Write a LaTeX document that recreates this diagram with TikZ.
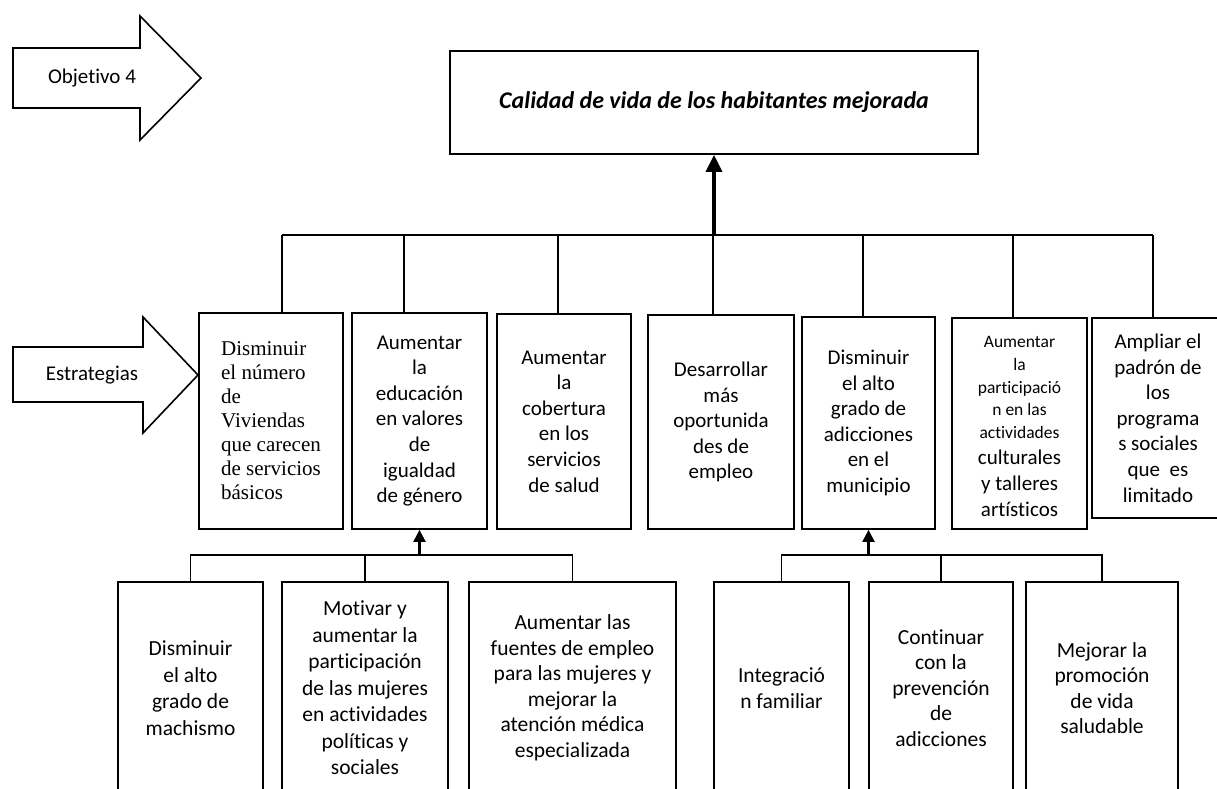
\documentclass[tikz,border=0pt]{standalone}
\usepackage{fontspec}
\setmainfont{Carlito}[Ligatures={NoCommon}]
\newfontfamily\tnrfont{Liberation Serif}
\usetikzlibrary{arrows.meta}
\begin{document}
\begin{tikzpicture}[x=1pt,y=1pt,
  box/.style={draw,line width=1.7pt,inner sep=0pt,align=center,font=\fontsize{21}{25.6}\selectfont},
  conn/.style={line width=1.9pt},
  uparrow/.style={line width=2.2pt,-{Triangle[width=12pt,length=12pt]}},
  mainarrow/.style={line width=3.2pt,-{Triangle[width=16pt,length=17pt]}},
  bigarrow/.style={draw,line width=1.6pt,line join=miter},
  lbl/.style={font=\fontsize{21}{25}\selectfont,inner sep=0pt}]
\useasboundingbox (0,0) rectangle (1217,-789);
\clip (0,0) rectangle (1217,-789);

% side arrows
\draw[bigarrow] (13,-48) -- (140,-48) -- (140,-16) -- (201,-78) -- (140,-140) -- (140,-108) -- (13,-108) -- cycle;
\node[lbl] (obj) at (92,-78) {Objetivo 4};
\draw[bigarrow] (13,-347) -- (143,-347) -- (143,-317) -- (198,-375) -- (143,-433) -- (143,-402) -- (13,-402) -- cycle;
\node[lbl] (est) at (92,-375) {Estrategias};

% main box
\node[box,minimum width=528pt,minimum height=103pt,font=\fontsize{24}{28}\selectfont\bfseries\itshape] (main) at (714,-102.5) {Calidad de vida de los habitantes mejorada};

% strategy boxes
\node[box,align=left,minimum width=144pt,minimum height=216pt,font=\fontsize{21}{24}\selectfont\tnrfont] (s1) at (271,-421) {Disminuir\\el número\\de\\Viviendas\\que carecen\\de servicios\\básicos};
\node[box,minimum width=135pt,minimum height=216pt] (s2) at (419.5,-421) {Aumentar\\la\\educación\\en valores\\de\\igualdad\\de género};
\node[box,minimum width=134pt,minimum height=215pt] (s3) at (564,-421.5) {Aumentar\\la\\cobertura\\en los\\servicios\\de salud};
\node[box,minimum width=146pt,minimum height=214pt] (s4) at (721,-422) {Desarrollar\\más\\oportunida\\des de\\empleo};
\node[box,minimum width=133pt,minimum height=212pt] (s5) at (868.5,-423) {Disminuir\\el alto\\grado de\\adicciones\\en el\\municipio};
\node[box,minimum width=135pt,minimum height=211pt] (s6) at (1019.5,-423.5) {};
\node[font=\fontsize{17.5}{22.8}\selectfont,align=center,inner sep=0pt] (s6a) at (1019.5,-387.5) {Aumentar\\la\\participació\\n en las\\actividades};
\node[font=\fontsize{21}{26}\selectfont,align=center,inner sep=0pt] (s6b) at (1019.5,-483) {culturales\\y talleres\\artísticos};
\node[box,minimum width=132pt,minimum height=200pt] (s7) at (1158,-418) {Ampliar el\\padrón de\\los\\programa\\s sociales\\que~ es\\limitado};

% bus to main
\coordinate (v1) at (282,-235);
\coordinate (v2) at (404,-235);
\coordinate (v3) at (558,-235);
\coordinate (v4) at (713,-235);
\coordinate (v5) at (863,-235);
\coordinate (v6) at (1013,-235);
\coordinate (v7) at (1153,-235);
\draw[conn] (v1) -- (v7);
\draw[conn] (v1) -- (v1 |- s1.north);
\draw[conn] (v2) -- (v2 |- s2.north);
\draw[conn] (v3) -- (v3 |- s3.north);
\draw[conn] (v4) -- (v4 |- s4.north);
\draw[conn] (v5) -- (v5 |- s5.north);
\draw[conn] (v6) -- (v6 |- s6.north);
\draw[conn] (v7) -- (v7 |- s7.north);
\draw[mainarrow] (main.south |- v1) -- (main.south);

% lower boxes
\node[box,minimum width=145pt,minimum height=212pt,font=\fontsize{21.5}{26.5}\selectfont] (a) at (190.5,-688) {Disminuir\\el alto\\grado de\\machismo};
\node[box,minimum width=166pt,minimum height=212pt,font=\fontsize{21.5}{26.5}\selectfont] (b) at (365,-688) {Motivar y\\aumentar la\\participación\\de las mujeres\\en actividades\\políticas y\\sociales};
\node[box,minimum width=207pt,minimum height=212pt,font=\fontsize{21.5}{25.5}\selectfont] (c) at (572.5,-688) {Aumentar las\\fuentes de empleo\\para las mujeres y\\mejorar la\\atención médica\\especializada};
\node[box,minimum width=135pt,minimum height=212pt,font=\fontsize{21.5}{25.5}\selectfont] (d) at (781.5,-688) {Integració\\n familiar};
\node[box,minimum width=144pt,minimum height=212pt,font=\fontsize{21.5}{25.5}\selectfont] (e) at (941,-688) {Continuar\\con la\\prevención\\de\\adicciones};
\node[box,minimum width=152pt,minimum height=212pt,font=\fontsize{21.5}{25.5}\selectfont] (f) at (1102,-688) {Mejorar la\\promoción\\de vida\\saludable};

\coordinate (w) at (0,-555);
\draw[conn] (a.north) -- (a.north |- w) -- (c.north |- w) -- (c.north);
\draw[conn] (b.north) -- (b.north |- w);
\draw[uparrow] (s2.south |- w) -- (s2.south);
\draw[conn] (d.north) -- (d.north |- w) -- (f.north |- w) -- (f.north);
\draw[conn] (e.north) -- (e.north |- w);
\draw[uparrow] (s5.south |- w) -- (s5.south);
\end{tikzpicture}
\end{document}
